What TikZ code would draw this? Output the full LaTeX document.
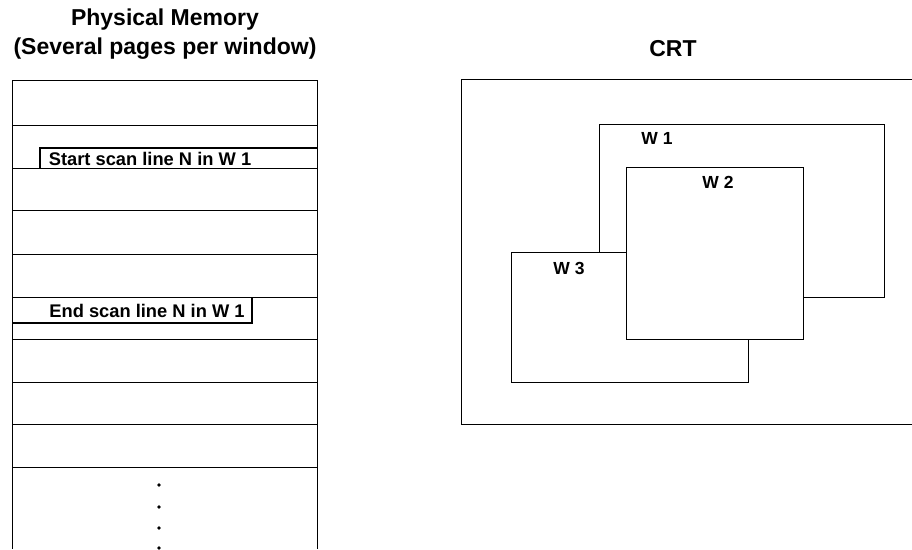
\documentclass[tikz,border=0pt]{standalone}
\usepackage{fontspec}
\setmainfont{Liberation Sans}
\usepackage{tikz}

\tikzset{
  title/.style={font=\bfseries\fontsize{23}{29}\selectfont, align=center},
  lbl/.style={font=\bfseries\fontsize{18.3}{20}\selectfont, inner sep=0pt},
  wlbl/.style={font=\bfseries\fontsize{17.5}{20}\selectfont, inner sep=0pt},
  win/.style={draw, fill=white, line width=1pt}
}

\begin{document}
\begin{tikzpicture}[x=1pt, y=-1pt, line width=0.9pt]
  \useasboundingbox (0,0) rectangle (912,549);
  % Memory column edges
  \def\L{12}
  \def\R{317}
  % Titles
  \node[title] (memtitle) at (165,34) {Physical Memory\\(Several pages per window)};
  \node[title] (crttitle) at (673,49) {CRT};

  % Page rows of physical memory
  \foreach \y in {80,125,168,210,254,297,339,382,424,467}{
    \draw (\L,\y) -- (\R,\y);
  }
  \draw (\L,80) -- (\L,549);
  \draw (\R,80) -- (\R,549);

  % Start and end of scan line N
  \node[lbl] (start) at (150,159) {Start scan line N in W 1};
  \draw[line width=1.6pt] (40,168) -- (40,148) -- (\R,148);
  \node[lbl] (end) at (147,311) {End scan line N in W 1};
  \draw[line width=1.5pt] (252,297) -- (252,323) -- (\L,323);

  % More pages below
  \foreach \y in {485,507,528,548}{
    \fill (159,\y) circle (1.8pt);
  }

  % CRT screen, right side cut off
  \draw (912,79) -- (461,79) -- (461,424) -- (912,424);
  % Windows, drawn back to front
  \draw[win] (599,124) rectangle (884,297);
  \node[wlbl] (w1) at (657,138) {W 1};
  \draw[win] (511,252) rectangle (748,382);
  \node[wlbl] (w3) at (569,268) {W 3};
  \draw[win] (626,167) rectangle (803,339);
  \node[wlbl] (w2) at (718,182) {W 2};
\end{tikzpicture}
\end{document}
